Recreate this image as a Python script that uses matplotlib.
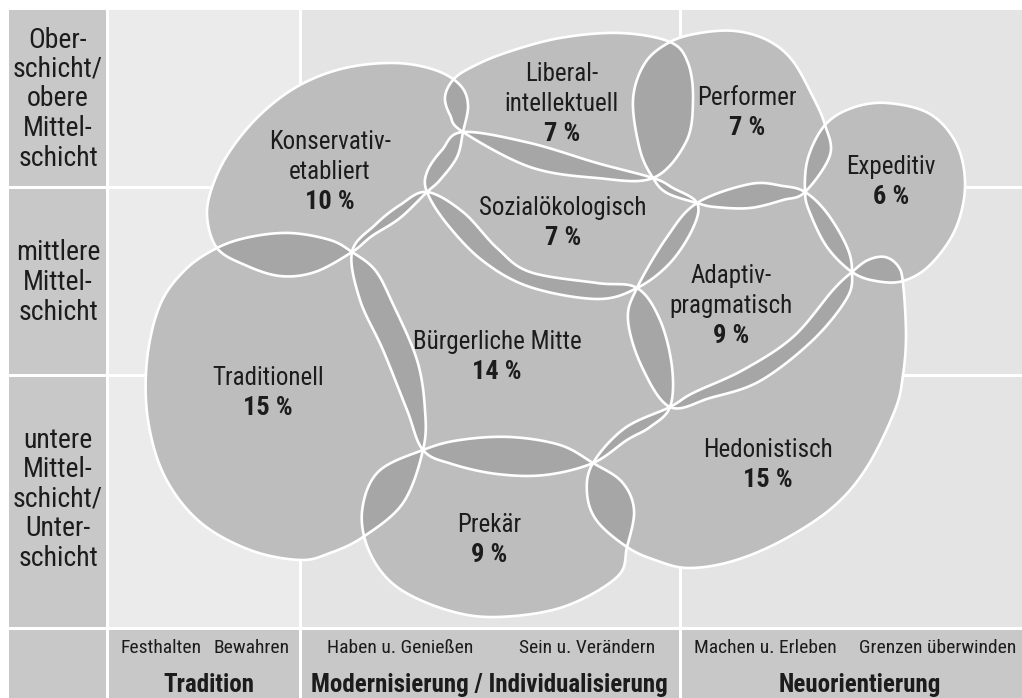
import numpy as np
import matplotlib
matplotlib.use("Agg")
import matplotlib.pyplot as plt
from matplotlib.patches import Polygon, Rectangle
from matplotlib import font_manager

# --- data: milieu outlines (image pixel coordinates), names and shares ---
KONSERVATIV = [(207, 215), (214, 182), (232, 148), (262, 113), (300, 85), (345, 68), (395, 63),
               (435, 70), (460, 85), (468, 105), (463, 132), (457, 157), (440, 180), (427, 192),
               (400, 218), (372, 236), (352, 252), (315, 272), (280, 276), (245, 265), (217, 248)]
TRADITIONELL = [(217, 248), (250, 237), (290, 233), (330, 240), (352, 252), (375, 270), (392, 302),
                (417, 360), (425, 410), (423, 450), (403, 503), (363, 537), (330, 553), (300, 560),
                (250, 550), (200, 522), (165, 477), (148, 420), (147, 360), (160, 305), (185, 270)]
BUERGERLICH = [(352, 252), (375, 225), (400, 205), (427, 192), (463, 212), (497, 248), (530, 272),
               (597, 283), (637, 288), (660, 320), (672, 367), (670, 407), (650, 427), (627, 440),
               (593, 463), (545, 475), (497, 474), (452, 464), (423, 450), (407, 410), (383, 350),
               (360, 300)]
SOZIAL = [(427, 192), (447, 224), (483, 261), (530, 287), (597, 299), (637, 288), (670, 263),
          (693, 228), (697, 203), (673, 188), (653, 178), (597, 163), (530, 143), (463, 132),
          (442, 150), (427, 172)]
LIBERAL = [(463, 132), (450, 115), (445, 97), (453, 80), (470, 68), (505, 53), (560, 38), (620, 33),
           (670, 42), (688, 63), (693, 100), (686, 142), (653, 178), (597, 178), (530, 167)]
PERFORMER = [(670, 42), (700, 33), (735, 31), (767, 40), (792, 60), (813, 97), (825, 125),
             (830, 155), (805, 192), (783, 200), (750, 208), (715, 207), (697, 203), (667, 193),
             (653, 178), (640, 150), (633, 100), (645, 63)]
EXPEDITIV = [(825, 125), (852, 108), (887, 103), (930, 114), (957, 145), (965, 187), (955, 230),
             (930, 265), (903, 281), (876, 281), (852, 272), (827, 247), (810, 213), (805, 192),
             (808, 158)]
ADAPTIV = [(697, 203), (750, 184), (783, 186), (805, 192), (827, 213), (847, 247), (852, 272),
           (847, 298), (813, 340), (760, 381), (710, 398), (670, 407), (642, 367), (628, 320),
           (637, 288), (667, 237)]
HEDONISTISCH = [(670, 407), (693, 393), (743, 370), (793, 337), (833, 290), (852, 272), (868, 260),
                (885, 257), (898, 266), (903, 283), (906, 335), (903, 375), (895, 410), (867, 467),
                (833, 507), (783, 540), (733, 561), (688, 568), (655, 560), (627, 547), (597, 521),
                (587, 493), (593, 463), (625, 428)]
PREKAER = [(423, 450), (460, 440), (510, 437), (560, 445), (593, 463), (622, 482), (634, 510),
           (627, 547), (617, 577), (563, 607), (497, 617), (447, 610), (397, 587), (370, 553),
           (362, 512), (378, 472)]

MILIEUS = [["Konservativ-", "etabliert"], ["Traditionell"], ["Bürgerliche Mitte"],
           ["Sozialökologisch"], ["Liberal-", "intellektuell"], ["Performer"], ["Expeditiv"],
           ["Adaptiv-", "pragmatisch"], ["Hedonistisch"], ["Prekär"]]
SHARES = [10, 15, 14, 7, 7, 7, 6, 9, 15, 9]
OUTLINES = [KONSERVATIV, TRADITIONELL, BUERGERLICH, SOZIAL, LIBERAL, PERFORMER, EXPEDITIV,
            ADAPTIV, HEDONISTISCH, PREKAER]
LABEL_XY = [(330, 142), (268, 378), (497, 342), (563, 208), (562, 74), (747, 98), (891, 167),
            (731, 276), (768, 450), (489, 525)]

ROW_LABELS = [["Ober-", "schicht/", "obere", "Mittel-", "schicht"],
              ["mittlere", "Mittel-", "schicht"],
              ["untere", "Mittel-", "schicht/", "Unter-", "schicht"]]
VALUE_LABELS = ["Festhalten", "Bewahren", "Haben u. Genießen", "Sein u. Verändern",
                "Machen u. Erleben", "Grenzen überwinden"]
AXIS_LABELS = ["Tradition", "Modernisierung / Individualisierung", "Neuorientierung"]

# fonts: a condensed sans with a real bold weight, if there is one
weights = {}
for f in font_manager.fontManager.ttflist:
    if f.style == "normal":
        weights.setdefault(f.name, set()).add(int(f.weight) if str(f.weight).isdigit() else 400)
pref = ["Liberation Sans Narrow", "Archivo Narrow", "Roboto Condensed", "PT Sans Narrow",
        "Pragati Narrow", "Fira Sans Condensed", "IBM Plex Sans Condensed",
        "Encode Sans Condensed", "Sofia Sans Condensed", "Open Sans Condensed",
        "Asap Condensed", "Barlow Semi Condensed"]
others = sorted(n for n in weights if ("Condensed" in n or "Narrow" in n)
                and "Serif" not in n and "Mono" not in n)
chosen = None
for n in pref + others:
    w = weights.get(n, set())
    if 400 in w and any(x >= 700 for x in w):
        chosen = n
        break
plt.rcParams["font.family"] = ([chosen] if chosen else []) + ["Liberation Sans", "DejaVu Sans"]

TXT = "#1c1c1c"
CELL = "#e4e4e4"
CELL1 = "#ebebeb"
SIDE = "#c8c8c8"
BLOB = "#bdbdbd"
OVER = "#a6a6a6"


def smooth(points, n=24):
    # closed Catmull-Rom curve through the outline points
    p = np.array(points, float)
    m = len(p)
    out = []
    for i in range(m):
        p0, p1, p2, p3 = p[i - 1], p[i], p[(i + 1) % m], p[(i + 2) % m]
        t = np.linspace(0, 1, n, endpoint=False)[:, None]
        out.append(0.5 * ((2 * p1) + (-p0 + p2) * t + (2 * p0 - 5 * p1 + 4 * p2 - p3) * t ** 2
                          + (-p0 + 3 * p1 - 3 * p2 + p3) * t ** 3))
    return np.vstack(out)


fig = plt.figure(figsize=(10.22, 6.98), dpi=100)
ax = fig.add_axes([0, 0, 1, 1])
ax.set_xlim(0, 1022)
ax.set_ylim(698, 0)
ax.axis("off")

# grid cells
xs = [9, 109, 302, 682, 1022]
ys = [10, 189, 377, 630, 698]
for r in range(4):
    for c in range(4):
        x0, x1 = xs[c], xs[c + 1] - 3
        y0, y1 = ys[r], ys[r + 1] - 3
        if c == 3:
            x1 = xs[c + 1]
        if r == 3:
            y1 = ys[r + 1]
        if c == 0 or r == 3:
            col = SIDE
        elif c == 1:
            col = CELL1
        else:
            col = CELL
        ax.add_patch(Rectangle((x0, y0), x1 - x0, y1 - y0, facecolor=col, edgecolor="none", zorder=0))

# milieu blobs
patches = []
for pts in OUTLINES:
    p = Polygon(smooth(pts), closed=True, facecolor=BLOB, edgecolor="none", zorder=2)
    ax.add_patch(p)
    patches.append(p)

# darker overlaps
for i in range(len(OUTLINES)):
    for j in range(i + 1, len(OUTLINES)):
        q = Polygon(smooth(OUTLINES[j]), closed=True, facecolor=OVER, edgecolor="none", zorder=3)
        ax.add_patch(q)
        q.set_clip_path(patches[i])

for pts in OUTLINES:
    ax.add_patch(Polygon(smooth(pts), closed=True, facecolor="none", edgecolor="white",
                         linewidth=1.9, zorder=4))

# milieu labels, one text per line
for lines, share, (x, y) in zip(MILIEUS, SHARES, LABEL_XY):
    for k, ln in enumerate(lines):
        ax.text(x, y + 30 * k, ln, ha="center", va="center", fontsize=18, color=TXT, zorder=5)
    ax.text(x, y + 30 * len(lines), f"{share} %", ha="center", va="center", fontsize=19,
            fontweight="bold", color=TXT, zorder=5)

# row labels
for lines, y0 in zip(ROW_LABELS, [40, 253, 440]):
    for k, ln in enumerate(lines):
        ax.text(58, y0 + 29.5 * k, ln, ha="center", va="center", fontsize=20, color=TXT)

# bottom labels
for lab, xc in zip(VALUE_LABELS, [161, 252, 400, 587, 765, 938]):
    ax.text(xc, 648, lab, ha="center", va="center", fontsize=14, color=TXT)
for lab, xc in zip(AXIS_LABELS, [209, 489, 860]):
    ax.text(xc, 685, lab, ha="center", va="center", fontsize=18, fontweight="bold", color=TXT)

fig.savefig("out.png", dpi=100)
